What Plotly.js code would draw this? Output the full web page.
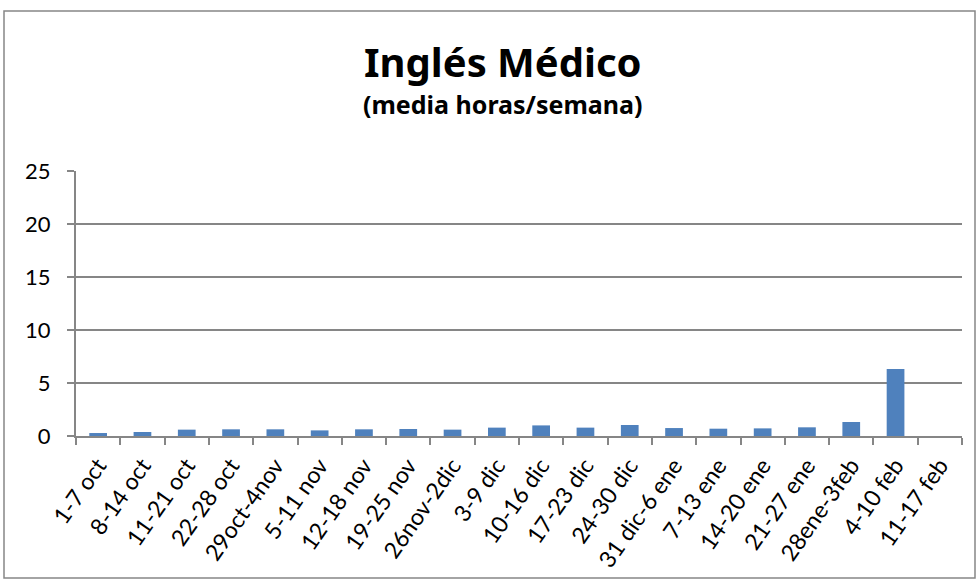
<!DOCTYPE html>
<html><head><meta charset="utf-8">
<script src="https://cdn.plot.ly/plotly-3.0.1.min.js"></script>
<style>body{margin:0;padding:0;background:#fff}#chart{width:979px;height:579px}</style>
</head><body><div id="chart"></div>
<script>
const categories = ["1-7 oct","8-14 oct","11-21 oct","22-28 oct","29oct-4nov","5-11 nov","12-18 nov","19-25 nov","26nov-2dic","3-9 dic","10-16 dic","17-23 dic","24-30 dic","31 dic-6 ene","7-13 ene","14-20 ene","21-27 ene","28ene-3feb","4-10 feb","11-17 feb"];
const hours = [0.28,0.38,0.6,0.63,0.63,0.53,0.63,0.66,0.6,0.79,1.0,0.79,1.04,0.75,0.69,0.72,0.82,1.32,6.32,0];
const yTicks = [0,5,10,15,20,25];

const W=979,H=579,L=76,R=17,T=171,B=143;
const pw=W-L-R, ph=H-T-B;
const px = x => (x-L)/pw, py = y => (H-B-y)/ph;

Plotly.newPlot('chart',[{
  type:'bar', x:categories, y:hours, width:0.4,
  marker:{color:'#4F81BD', line:{width:0}},
  hoverinfo:'x+y'
}],{
  width:W,height:H,
  margin:{l:L,r:R,t:T,b:B},
  paper_bgcolor:'#fff', plot_bgcolor:'#fff',
  font:{family:'Lato, "Open Sans", sans-serif', color:'#000'},
  showlegend:false,
  bargap:0.6,
  annotations:[
    {text:'<b>Inglés Médico</b>', xref:'paper', yref:'paper', x:px(503), y:py(61), xanchor:'center', yanchor:'middle', showarrow:false, font:{family:'"Noto Sans", Lato, sans-serif', size:40, color:'#000'}},
    {text:'<b>(media horas/semana)</b>', xref:'paper', yref:'paper', x:px(503), y:py(104), xanchor:'center', yanchor:'middle', showarrow:false, font:{family:'"Noto Sans", Lato, sans-serif', size:25, color:'#000'}}
  ],
  xaxis:{type:'category', tickangle:-55, tickfont:{size:23}, ticklabelstandoff:5, showline:true, linecolor:'#868686', linewidth:2, ticks:'outside', tickson:'boundaries', ticklen:7, tickcolor:'#868686', tickwidth:2, showgrid:false, fixedrange:true},
  yaxis:{range:[0,25], tickvals:yTicks, ticktext:yTicks.map(String), tickfont:{size:22}, ticklabelstandoff:12, showline:true, linecolor:'#868686', linewidth:2, ticks:'outside', ticklen:7, tickcolor:'#868686', tickwidth:2, showgrid:true, gridcolor:'#868686', gridwidth:2, zeroline:false, fixedrange:true},
  shapes:[{type:'rect', xref:'paper', yref:'paper', x0:px(4), x1:px(975), y0:py(578), y1:py(11), line:{color:'#868686', width:1.5}, fillcolor:'rgba(0,0,0,0)', layer:'below'}]
},{displayModeBar:false, staticPlot:true});
</script></body></html>
